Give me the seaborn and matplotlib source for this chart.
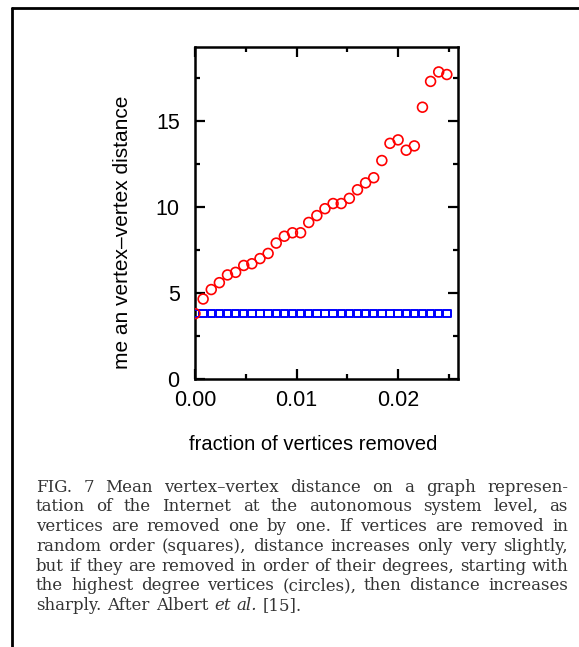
import numpy as np
import pandas as pd
import seaborn as sns
import matplotlib.pyplot as plt
from matplotlib.lines import Line2D

# fraction of vertices removed (one point every 0.0008)
fraction = [0.0000, 0.0008, 0.0016, 0.0024, 0.0032, 0.0040, 0.0048, 0.0056,
            0.0064, 0.0072, 0.0080, 0.0088, 0.0096, 0.0104, 0.0112, 0.0120,
            0.0128, 0.0136, 0.0144, 0.0152, 0.0160, 0.0168, 0.0176, 0.0184,
            0.0192, 0.0200, 0.0208, 0.0216, 0.0224, 0.0232, 0.0240, 0.0248]

# removed in order of degree (circles)
by_degree = [3.80, 4.65, 5.20, 5.60, 6.05, 6.20, 6.60, 6.70,
             7.00, 7.30, 7.90, 8.30, 8.50, 8.50, 9.10, 9.50,
             9.90, 10.20, 10.20, 10.50, 11.00, 11.40, 11.70, 12.70,
             13.70, 13.90, 13.30, 13.55, 15.80, 17.30, 17.85, 17.70]

# removed in random order (squares) - flat at this resolution
random_order = [3.80, 3.80, 3.80, 3.80, 3.80, 3.80, 3.80, 3.80,
                3.80, 3.80, 3.80, 3.80, 3.80, 3.80, 3.80, 3.80,
                3.80, 3.80, 3.80, 3.80, 3.80, 3.80, 3.80, 3.80,
                3.80, 3.80, 3.80, 3.80, 3.80, 3.80, 3.80, 3.80]

xticks = [0.0, 0.01, 0.02]
xtick_labels = ['0.00', '0.01', '0.02']
yticks = [0, 5, 10, 15]

caption_lines = [
    "FIG. 7 Mean vertex\u2013vertex distance on a graph represen-",
    "tation of the Internet at the autonomous system level, as",
    "vertices are removed one by one. If vertices are removed in",
    "random order (squares), distance increases only very slightly,",
    "but if they are removed in order of their degrees, starting with",
    "the highest degree vertices (circles), then distance increases",
    "sharply. After Albert et al. [15].",
]
italic_words = {"et", "al."}

df = pd.DataFrame({'fraction': fraction, 'degree': by_degree, 'random': random_order})

sns.set_style('ticks')
plt.rcParams['font.family'] = ['Liberation Sans', 'DejaVu Sans']

W, H = 579, 647
fig = plt.figure(figsize=(W / 100, H / 100), dpi=100)
ax = fig.add_axes([195 / W, 1 - 379 / H, (458 - 195) / W, (379 - 47) / H])

sns.scatterplot(data=df, x='fraction', y='random', marker='s', s=28,
                facecolor='none', edgecolor='#0000ff', linewidth=1.4, ax=ax, zorder=3)
sns.scatterplot(data=df, x='fraction', y='degree', marker='o', s=50,
                facecolor='none', edgecolor='#ff0000', linewidth=1.2, ax=ax, zorder=4)

ax.set_xlim(0, 0.0259)
ax.set_ylim(0, 19.3)
ax.set_xticks(xticks)
ax.set_xticklabels(xtick_labels)
ax.set_xticks([0.005, 0.015, 0.025], minor=True)
ax.set_yticks(yticks)
ax.set_yticks([2.5, 7.5, 12.5, 17.5], minor=True)
ax.tick_params(which='both', direction='in', top=True, right=True, width=1.6,
               colors='black', labelsize=15.5)
ax.tick_params(which='major', length=7)
ax.tick_params(which='minor', length=3.5)
ax.tick_params(axis='x', pad=8)
ax.tick_params(axis='y', pad=11)
for sp in ax.spines.values():
    sp.set_visible(True)
    sp.set_linewidth(1.8)
    sp.set_color('black')

ax.set_xlabel('fraction of vertices removed', fontsize=14.5, color='black')
ax.set_ylabel('me an vertex\u2013vertex distance', fontsize=15, color='black')
ax.xaxis.set_label_coords((313 - 195) / (458 - 195), -(445 - 379) / (379 - 47))
ax.yaxis.set_label_coords(-(195 - 123) / (458 - 195), (379 - 232) / (379 - 47))
ax.xaxis.label.set_va('center')
ax.yaxis.label.set_va('center')

# page frame
fig.add_artist(Line2D([12 / W, 1], [1 - 8 / H, 1 - 8 / H], color='black', lw=2))
fig.add_artist(Line2D([12 / W, 12 / W], [0, 1 - 8 / H], color='black', lw=2))

# justified caption
fig.canvas.draw()
r = fig.canvas.get_renderer()
x0, x1 = 36, 568
for i, line in enumerate(caption_lines):
    y = 1 - (487 + i * 19.8) / H
    words = line.split()
    texts = [fig.text(0, y, w, fontsize=12, family='DejaVu Serif', color='#333333',
                      style='italic' if w in italic_words else 'normal', va='center')
             for w in words]
    widths = [t.get_window_extent(r).width for t in texts]
    if i == len(caption_lines) - 1:
        gap = 6
    else:
        gap = (x1 - x0 - sum(widths)) / (len(words) - 1)
    x = x0
    for t, w in zip(texts, widths):
        t.set_x(x / W)
        x += w + gap

fig.savefig('out.png', dpi=100)
